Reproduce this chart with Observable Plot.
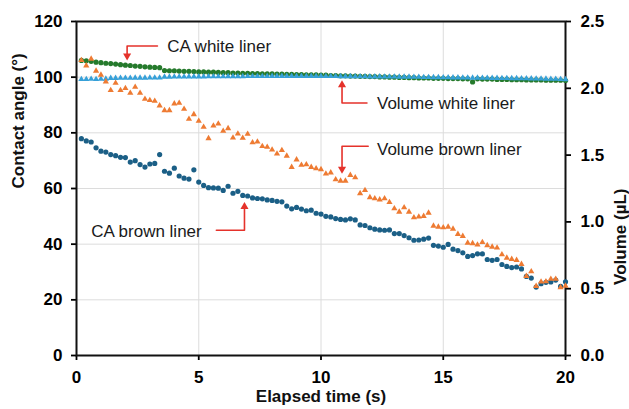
<!DOCTYPE html>
<html><head><meta charset="utf-8">
<script src="https://cdn.jsdelivr.net/npm/d3@7"></script>
<script src="https://cdn.jsdelivr.net/npm/@observablehq/plot@0.6"></script>
<style>
html,body{margin:0;padding:0;background:#fff;}
#chart{width:629px;height:409px;}
</style></head><body><div id="chart"></div>
<script>
// Elapsed time (s)
const time = [
  0.2,0.4,0.6,0.8,1.0,1.2,1.4,1.6,1.8,2.0,
  2.2,2.4,2.6,2.8,3.0,3.2,3.4,3.6,3.8,4.0,
  4.2,4.4,4.6,4.8,5.0,5.2,5.4,5.6,5.8,6.0,
  6.2,6.4,6.6,6.8,7.0,7.2,7.4,7.6,7.8,8.0,
  8.2,8.4,8.6,8.8,9.0,9.2,9.4,9.6,9.8,10.0,
  10.2,10.4,10.6,10.8,11.0,11.2,11.4,11.6,11.8,12.0,
  12.2,12.4,12.6,12.8,13.0,13.2,13.4,13.6,13.8,14.0,
  14.2,14.4,14.6,14.8,15.0,15.2,15.4,15.6,15.8,16.0,
  16.2,16.4,16.6,16.8,17.0,17.2,17.4,17.6,17.8,18.0,
  18.2,18.4,18.6,18.8,19.0,19.2,19.4,19.6,19.8,20.0
];
// Contact angle (°), white liner
const caWhite = [
  106.0,105.9,105.7,105.4,105.2,105.0,104.9,104.7,104.5,104.3,
  104.2,104.0,103.9,103.7,103.6,103.5,103.4,102.4,102.3,102.3,
  102.2,102.1,102.1,102.0,101.9,101.9,101.8,101.8,101.7,101.6,
  101.6,101.5,101.5,101.4,101.4,101.3,101.3,101.2,101.2,101.2,
  101.1,101.1,101.0,101.0,100.9,100.9,100.8,100.8,100.8,100.7,
  100.7,100.6,100.6,100.5,100.5,100.4,100.4,100.3,100.3,100.2,
  100.2,100.1,100.1,100.0,100.0,99.9,99.9,99.8,99.8,99.7,
  99.7,99.7,99.6,99.6,99.6,99.5,99.5,99.5,99.4,99.4,
  98.3,99.4,99.3,99.3,99.3,99.2,99.2,99.2,99.1,99.1,
  99.1,99.0,99.0,99.0,99.0,98.9,98.9,98.9,98.9,98.8
];
// Contact angle (°), brown liner
const caBrown = [
  77.9,77.1,76.7,74.6,73.4,73.1,72.2,71.8,71.2,71.1,
  69.5,70.0,68.6,67.7,68.8,69.0,72.2,66.2,65.5,67.3,
  64.5,63.7,63.4,66.7,62.3,61.1,60.3,60.2,60.1,59.3,
  60.8,58.3,59.0,57.5,57.3,56.6,56.4,56.3,55.9,55.7,
  55.4,55.2,53.7,52.7,53.2,52.6,52.0,52.2,51.1,50.8,
  50.0,49.8,49.2,48.9,48.7,49.1,48.7,46.9,46.7,45.9,
  45.4,45.1,45.0,45.1,43.8,43.8,43.1,42.3,41.4,41.5,
  41.8,42.2,39.6,39.3,38.9,39.9,38.2,37.7,36.9,35.6,
  35.9,36.5,36.5,34.5,34.2,34.5,32.7,32.0,31.6,31.8,
  31.1,28.4,27.8,24.6,25.8,26.3,26.4,27.1,24.8,26.5
];
// Volume (µL), white liner
const volWhite = [
  2.068,2.068,2.069,2.068,2.069,2.070,2.076,2.076,2.077,2.077,
  2.077,2.078,2.078,2.078,2.079,2.079,2.079,2.085,2.085,2.086,
  2.086,2.086,2.087,2.087,2.087,2.087,2.088,2.088,2.088,2.088,
  2.089,2.089,2.089,2.089,2.090,2.090,2.090,2.090,2.090,2.091,
  2.091,2.091,2.091,2.091,2.091,2.091,2.091,2.091,2.091,2.091,
  2.090,2.090,2.090,2.089,2.089,2.089,2.088,2.088,2.088,2.087,
  2.087,2.087,2.086,2.086,2.086,2.085,2.085,2.085,2.084,2.084,
  2.083,2.083,2.082,2.082,2.081,2.081,2.080,2.080,2.079,2.079,
  2.078,2.078,2.077,2.077,2.076,2.076,2.075,2.075,2.074,2.074,
  2.073,2.073,2.072,2.071,2.071,2.070,2.069,2.069,2.068,2.067
];
// Volume (µL), brown liner
const volBrown = [
  2.21,2.17,2.22,2.13,2.10,2.05,1.985,2.04,1.985,2.00,
  1.965,2.01,1.965,1.92,1.91,1.905,1.87,1.835,1.835,1.885,
  1.89,1.845,1.77,1.805,1.755,1.71,1.625,1.72,1.735,1.68,
  1.70,1.63,1.66,1.628,1.658,1.594,1.60,1.566,1.56,1.54,
  1.51,1.536,1.494,1.41,1.466,1.426,1.429,1.41,1.40,1.393,
  1.36,1.369,1.317,1.307,1.307,1.35,1.332,1.213,1.237,1.183,
  1.175,1.167,1.175,1.147,1.10,1.075,1.108,1.075,1.033,1.038,
  1.043,1.067,0.970,0.963,0.958,0.963,0.948,0.908,0.893,0.843,
  0.839,0.829,0.848,0.824,0.813,0.806,0.756,0.731,0.721,0.714,
  0.684,0.594,0.629,0.519,0.552,0.554,0.572,0.572,0.510,0.521
];
// Tick values
const xTicks = [0, 5, 10, 15, 20];
const angleTicks = [0, 20, 40, 60, 80, 100, 120];
const volumeTicks = [0.0, 0.5, 1.0, 1.5, 2.0, 2.5];

// Annotations (data coordinates: time, angle-scale value)
const annotLabels = [
  {text: "CA white liner", t: 3.71, a: 111.0},
  {text: "Volume white liner", t: 12.29, a: 90.7},
  {text: "Volume brown liner", t: 12.29, a: 74.0},
  {text: "CA brown liner", t: 0.6, a: 44.4}
];
const annotPaths = [
  {id: 1, pts: [[3.31, 111.2], [2.07, 111.2], [2.07, 107.7]], head: [2.07, 107.7], rot: 180},
  {id: 2, pts: [[11.88, 90.7], [10.86, 90.7], [10.86, 97.2]], head: [10.86, 97.2], rot: 0},
  {id: 3, pts: [[11.93, 75.2], [10.86, 75.2], [10.86, 67.0]], head: [10.86, 67.0], rot: 180},
  {id: 4, pts: [[5.72, 45.0], [6.87, 45.0], [6.87, 53.5]], head: [6.87, 53.5], rot: 0}
];

const VOL_TO_ANGLE = 120 / 2.5;
const rows = (vals) => vals.map((v, i) => ({t: time[i], v}));
const arrowRows = annotPaths.flatMap(p => p.pts.map(([t, a]) => ({id: p.id, t, a})));
const headRows = annotPaths.map(p => ({t: p.head[0], a: p.head[1], rot: p.rot}));

const font = "'Liberation Sans', Arial, Helvetica, sans-serif";
const red = "#e5322b";

const chart = Plot.plot({
  width: 629,
  height: 409,
  marginLeft: 76,
  marginRight: 64,
  marginTop: 21,
  marginBottom: 54,
  style: {fontFamily: font, background: "#fff", color: "#000", overflow: "visible"},
  x: {domain: [0, 20]},
  y: {domain: [0, 120]},
  marks: [
    Plot.gridX(xTicks.slice(1, -1), {stroke: "#dcdcdc", strokeOpacity: 1, strokeWidth: 1}),
    Plot.gridY(angleTicks.slice(1, -1), {stroke: "#dcdcdc", strokeOpacity: 1, strokeWidth: 1}),
    Plot.axisX(xTicks, {anchor: "bottom", tickSize: 5, tickPadding: 10, fontSize: 17, fontWeight: "bold", strokeWidth: 1.8, label: null}),
    Plot.axisY(angleTicks, {anchor: "left", tickSize: 5, tickPadding: 9, fontSize: 17, fontWeight: "bold", strokeWidth: 1.8, label: null}),
    Plot.axisY(volumeTicks.map(v => v * VOL_TO_ANGLE), {anchor: "right", tickSize: 5, tickPadding: 10, fontSize: 17, fontWeight: "bold", strokeWidth: 1.8, label: null, tickFormat: d => (d / VOL_TO_ANGLE).toFixed(1)}),
    Plot.frame({stroke: "#111", strokeWidth: 2}),
    Plot.dot(rows(caBrown), {x: "t", y: "v", r: 2.6, fill: "#1b5f86"}),
    Plot.dot(rows(caWhite), {x: "t", y: "v", r: 2.6, fill: "#257a2c"}),
    Plot.dot(rows(volWhite), {x: "t", y: d => d.v * VOL_TO_ANGLE, symbol: "triangle", r: 2.3, fill: "#36a0d8"}),
    Plot.dot(rows(volBrown), {x: "t", y: d => d.v * VOL_TO_ANGLE, symbol: "triangle", r: 2.3, fill: "#ee7b33"}),
    Plot.line(arrowRows, {x: "t", y: "a", z: "id", stroke: red, strokeWidth: 1.6, curve: "linear"}),
    Plot.dot(headRows, {x: "t", y: "a", symbol: "triangle", rotate: "rot", r: 3, fill: red}),
    Plot.text(annotLabels, {x: "t", y: "a", text: "text", textAnchor: "start", fontSize: 17, fill: "#1a1a1a"}),
    Plot.text(["Contact angle (°)"], {frameAnchor: "left", dx: -58, rotate: -90, fontSize: 17, fontWeight: "bold", fill: "#111"}),
    Plot.text(["Volume (µL)"], {frameAnchor: "right", dx: 55, rotate: -90, fontSize: 17, fontWeight: "bold", fill: "#111"}),
    Plot.text(["Elapsed time (s)"], {frameAnchor: "bottom", dy: 46, fontSize: 17, fontWeight: "bold", fill: "#111"})
  ]
});
document.getElementById("chart").appendChild(chart);
</script>
</body></html>
